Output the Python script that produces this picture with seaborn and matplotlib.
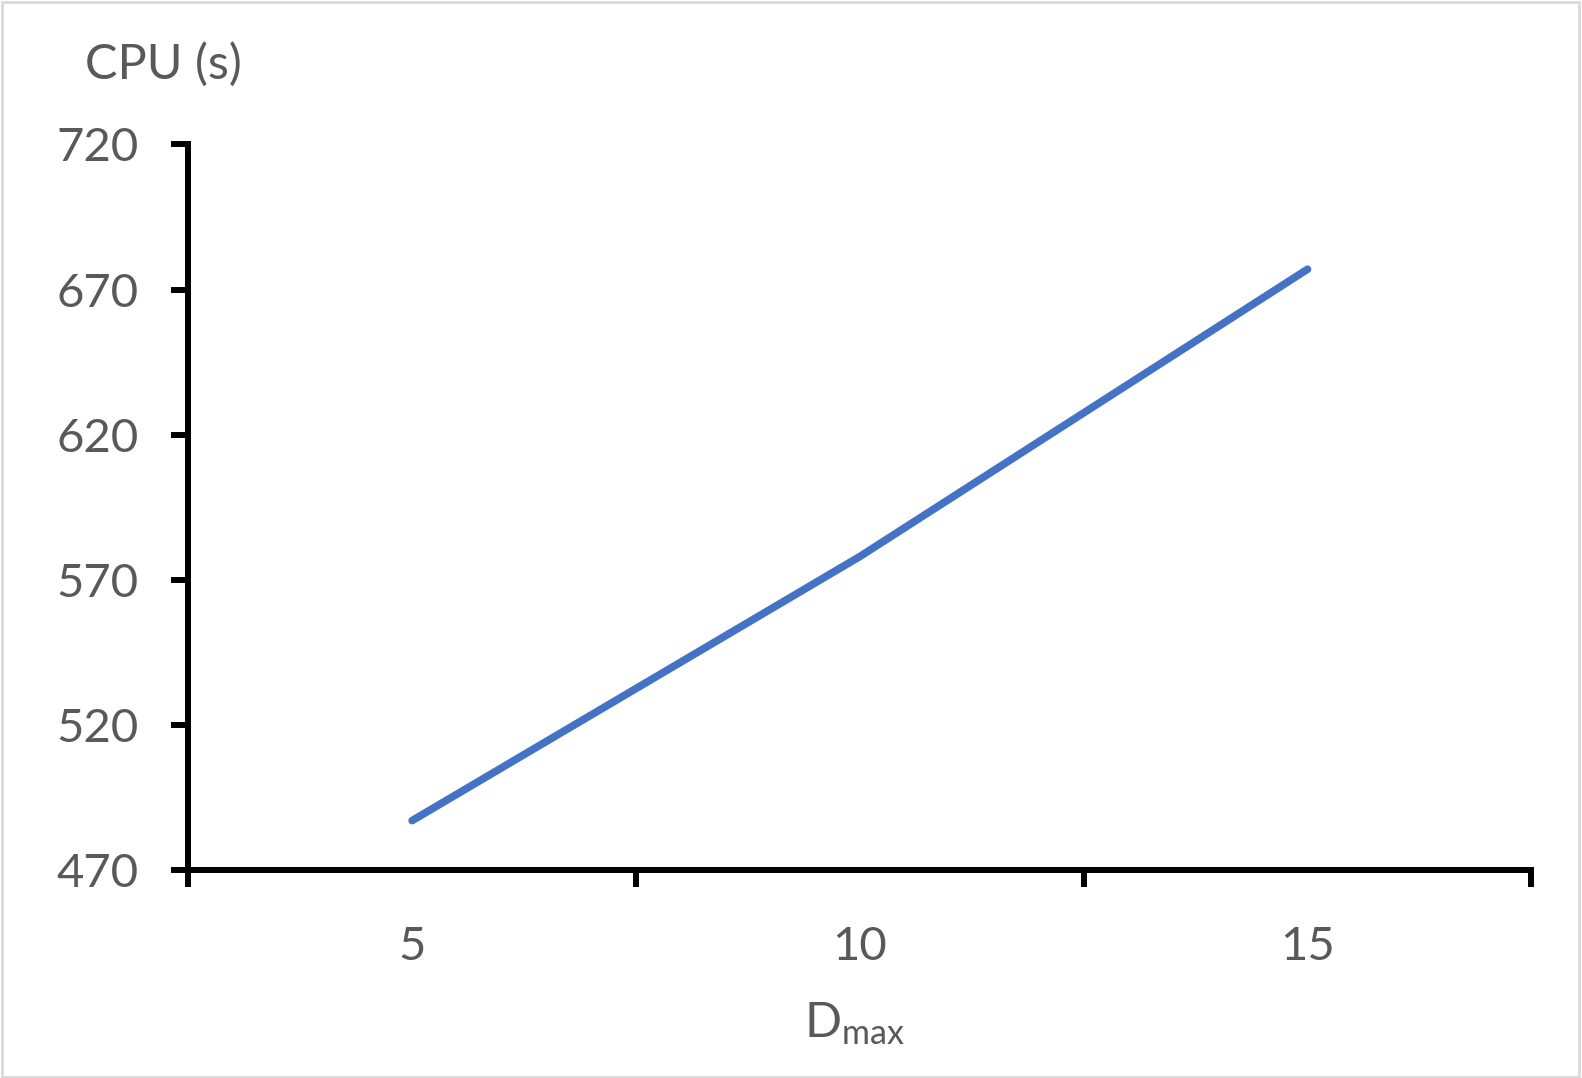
import matplotlib
matplotlib.use("Agg")
import matplotlib.pyplot as plt
import seaborn as sns
import pandas as pd
from matplotlib.patches import Rectangle

categories = ["5", "10", "15"]
cpu_seconds = [487, 578, 677]
y_ticks = [470, 520, 570, 620, 670, 720]

sns.set_theme(style="white")
plt.rcParams["font.family"] = ["Lato", "DejaVu Sans"]
plt.rcParams["mathtext.fontset"] = "custom"
plt.rcParams["mathtext.rm"] = "Lato"
plt.rcParams["mathtext.it"] = "Lato"

gray = "#595959"
fig = plt.figure(figsize=(15.82, 10.78), dpi=100)
ax = fig.add_axes([0.119, 0.193, 0.849, 0.673])

df = pd.DataFrame({"Dmax": categories, "CPU": cpu_seconds})
sns.lineplot(data=df, x="Dmax", y="CPU", ax=ax, color="#4472C4", linewidth=5.5,
             solid_capstyle="round", sort=False)

ax.set_xlim(-0.5, 2.5)
ax.set_ylim(470, 720)
ax.set_yticks(y_ticks)
ax.set_yticklabels([str(t) for t in y_ticks])
ax.set_xticks(range(len(categories)))
ax.set_xticklabels(categories)
ax.set_xticks([-0.5, 0.5, 1.5, 2.5], minor=True)

for side in ["top", "right"]:
    ax.spines[side].set_visible(False)
for side in ["left", "bottom"]:
    ax.spines[side].set_linewidth(4.3)
    ax.spines[side].set_color("black")

ax.tick_params(axis="y", which="major", direction="out", length=12, width=4.3,
               color="black", labelsize=34, labelcolor=gray, pad=24, left=True)
ax.tick_params(axis="x", which="major", length=0, labelsize=34, labelcolor=gray, pad=40)
ax.tick_params(axis="x", which="minor", direction="out", length=12, width=4.3,
               color="black", bottom=True)
ax.set_xlabel("")
ax.set_ylabel("")

fig.text(0.054, 0.94, "CPU (s)", fontsize=35, color=gray, ha="left", va="center")
fig.text(0.540, 0.050, r"D$_{\mathrm{max}}$", fontsize=35, color=gray, ha="center", va="center")

fig.patches.append(Rectangle((0.001, 0.001), 0.997, 0.997, transform=fig.transFigure,
                             fill=False, edgecolor="#D9D9D9", linewidth=2))

fig.savefig("out.png", dpi=100, facecolor="white")
